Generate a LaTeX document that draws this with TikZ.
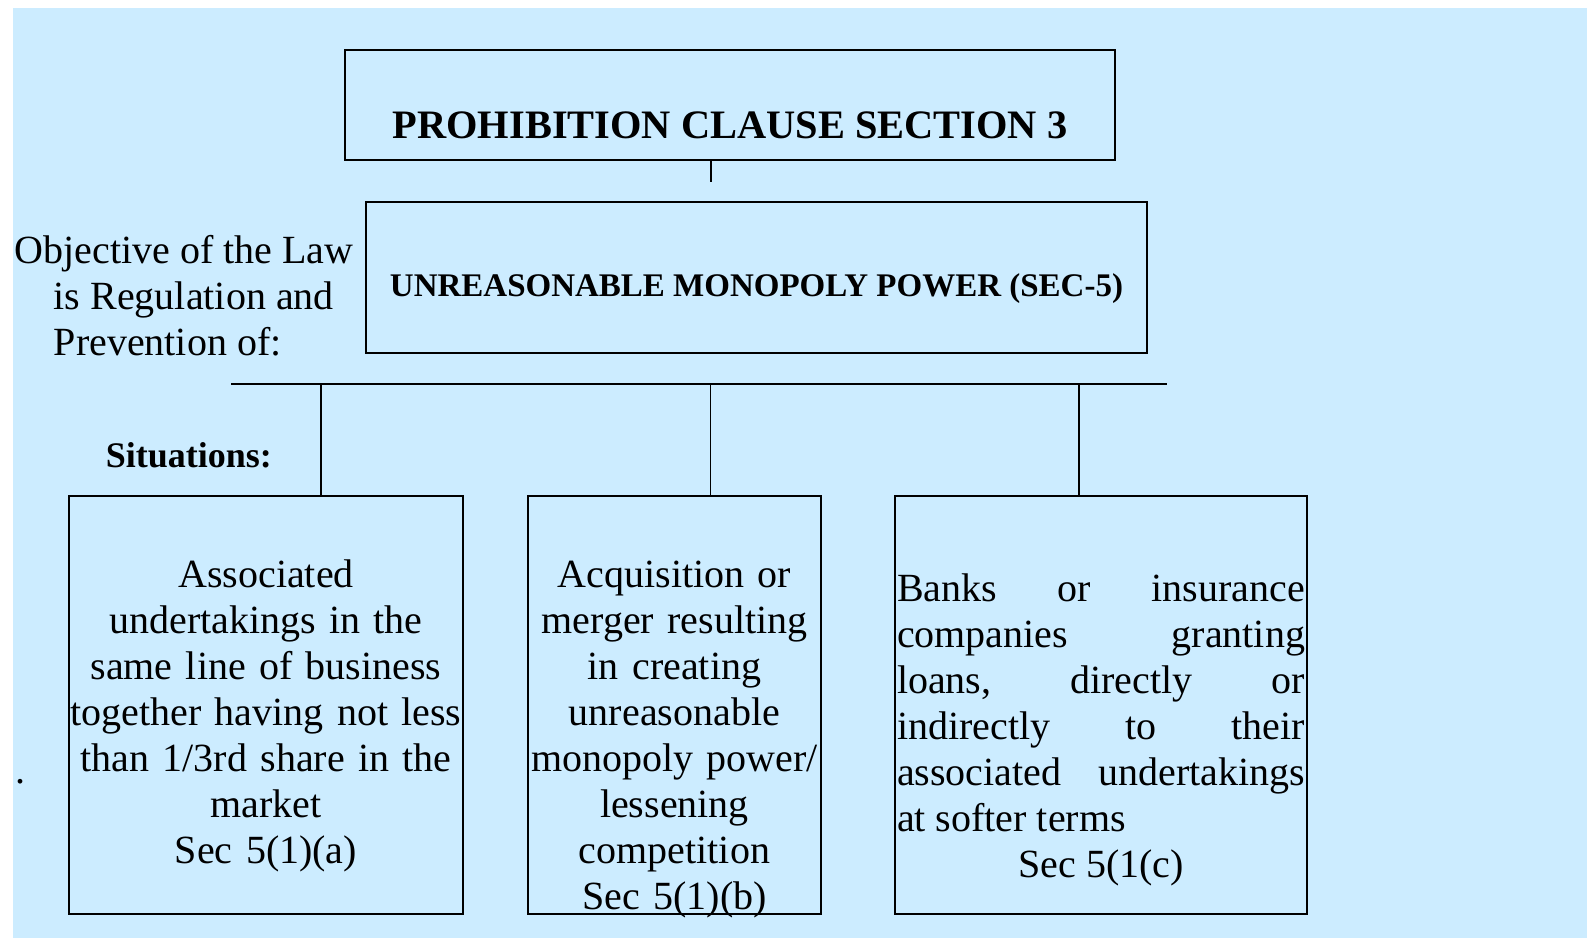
\documentclass[tikz,border=0pt]{standalone}
\usepackage{fontspec}
\setmainfont{Liberation Serif}
\usepackage{xcolor}

\definecolor{bgblue}{HTML}{CCECFF}

\begin{document}
\begin{tikzpicture}[
            x = 0.5pt, y = -0.5pt, % one unit = one pixel, origin top left
            line width = 0.8pt,
            box/.style = {draw=black, inner sep=0pt},
            body/.style = {font=\fontsize{20}{23}\selectfont},
            plain/.style = {inner sep=0pt}
        ]

\useasboundingbox (0,0) rectangle (1587,938);
\fill[bgblue] (13,8) rectangle (1587,938);

\node[box, anchor=base, minimum width=385pt, text height=44.35pt, text depth=10.65pt,
      font=\fontsize{20.2}{23}\selectfont\bfseries] (title) at (730,138.7) {PROHIBITION CLAUSE SECTION 3};
\node[box, anchor=base, minimum width=390.5pt, text height=47.35pt, text depth=28.15pt,
      font=\fontsize{16.5}{20}\selectfont\bfseries] (power) at (756.5,296.7) {UNREASONABLE MONOPOLY POWER (SEC-5)};

\node[body, plain, anchor=base west, text width=180pt, align=left] (goal) at (14,263)
  {\spaceskip=0pt Objective of the Law\\\hspace*{19.5pt}is Regulation and\\\hspace*{19.5pt}Prevention of:};
\node[plain, anchor=base west, font=\fontsize{18}{21}\selectfont\bfseries] (situ) at (105,467) {Situations:};
\node[body, plain, anchor=base west] (dot) at (15,783) {.};

% the three situations
\node[box, body, anchor=base, text width=197pt, align=center, text height=45.65pt, text depth=163.35pt] (sitA) at (266,587.3)
  {Associated\\undertakings in the\\same line of business\\together having not less\\than 1/3rd share in the\\market\\Sec 5(1)(a)};
\node[box, body, anchor=base, text width=146.5pt, align=center, text height=45.5pt, text depth=163.5pt] (sitB) at (674.5,587)
  {Acquisition or\\merger resulting\\in creating\\unreasonable\\monopoly power/\\lessening\\competition\\Sec 5(1)(b)};
\node[box, body, anchor=base, text width=204pt, inner xsep=1pt, align=left, text height=52.75pt, text depth=156.25pt] (sitC) at (1101,601.5)
  {\spaceskip=0pt
   Banks\hfill or\hfill insurance\\
   companies\hfill granting\\
   loans,\hfill directly\hfill or\\
   indirectly\hfill to\hfill their\\
   associated\hfill undertakings\\
   at softer terms\\
   \makebox[\linewidth]{Sec 5(1(c)}};

\coordinate (tick) at (710.7,182);
\coordinate (barL) at (231,384);
\coordinate (barR) at (1167,384);
\coordinate (dropA) at (321,384);
\coordinate (dropB) at (710.5,384);
\coordinate (dropC) at (1079,384);

\draw (tick |- title.south) -- (tick);
\draw (barL) -- (barR);
\draw (dropA) -- (dropA |- sitA.north);
\draw (dropB) -- (dropB |- sitB.north);
\draw (dropC) -- (dropC |- sitC.north);
\end{tikzpicture}
\end{document}
